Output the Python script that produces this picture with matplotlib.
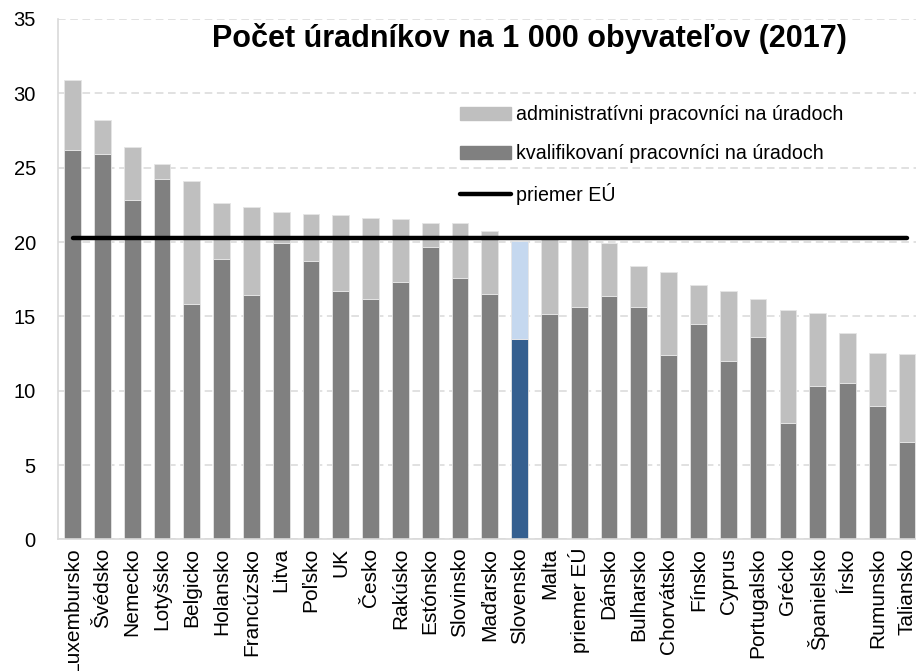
# Import libraries
import numpy as np
import matplotlib.pyplot as plt
from matplotlib.patches import Patch
from matplotlib.lines import Line2D

plt.rcParams.update({
    "font.family": ["Liberation Sans", "DejaVu Sans"],
    "figure.facecolor": "white",
})

# Data
countries = ["Luxembursko", "Švédsko", "Nemecko", "Lotyšsko", "Belgicko", "Holansko",
             "Francúzsko", "Litva", "Poľsko", "UK", "Česko", "Rakúsko", "Estónsko",
             "Slovinsko", "Maďarsko", "Slovensko", "Malta", "priemer EÚ", "Dánsko",
             "Bulharsko", "Chorvátsko", "Fínsko", "Cyprus", "Portugalsko", "Grécko",
             "Španielsko", "Írsko", "Rumunsko", "Taliansko"]
qualified = [26.2, 25.95, 22.8, 24.25, 15.85, 18.85, 16.45, 19.95, 18.7, 16.7, 16.15,
             17.3, 19.7, 17.6, 16.5, 13.5, 15.15, 15.6, 16.35, 15.65, 12.4, 14.5, 12.0,
             13.6, 7.85, 10.35, 10.5, 8.95, 6.55]
total = [30.9, 28.2, 26.4, 25.25, 24.1, 22.65, 22.35, 22.0, 21.9, 21.85, 21.65,
         21.55, 21.25, 21.25, 20.75, 20.1, 20.2, 20.3, 19.95, 18.4, 18.0, 17.1, 16.7,
         16.15, 15.45, 15.2, 13.9, 12.55, 12.45]
eu_avg = 20.3
highlight = "Slovensko"

admin = [t - q for t, q in zip(total, qualified)]
x = np.arange(len(countries))

dark_cols = ["#355f8f" if c == highlight else "#808080" for c in countries]
light_cols = ["#c5d8ef" if c == highlight else "#bfbfbf" for c in countries]

# Plot figure
fig = plt.figure(figsize=(9.16, 6.71), dpi=100)
ax = fig.add_axes([0.0633, 0.196, 0.9367, 0.7757])

ax.bar(x, qualified, width=0.56, color=dark_cols, edgecolor="#e6e6e6", lw=0.6, zorder=2)
ax.bar(x, admin, bottom=qualified, width=0.56, color=light_cols, edgecolor="#e6e6e6",
       lw=0.6, zorder=2)
ax.plot([x[0], x[-1]], [eu_avg, eu_avg], color="black", lw=3.2,
        solid_capstyle="round", zorder=3)

ax.set_xlim(-0.49, 28.3)
ax.set_ylim(0, 35)
ax.set_yticks(np.arange(0, 36, 5))
ax.yaxis.grid(True, color="#d9d9d9", linestyle=(0, (5, 3)), lw=1.1)
ax.set_axisbelow(True)
for side in ["top", "right"]:
    ax.spines[side].set_visible(False)
for side in ["left", "bottom"]:
    ax.spines[side].set_color("#d9d9d9")
    ax.spines[side].set_linewidth(1.2)

ax.set_xticks(x)
ax.set_xticklabels(countries, rotation=90, fontsize=15)
ax.tick_params(axis="x", length=0, pad=6)
ax.tick_params(axis="y", length=0, pad=16, labelsize=14.5)

ax.text(0.55, 0.962, "Počet úradníkov na 1 000 obyvateľov (2017)", transform=ax.transAxes,
        ha="center", va="center", fontsize=22, fontweight="bold")

# Legend
handles = [Patch(color="#bfbfbf"), Patch(color="#808080"),
           Line2D([0], [0], color="black", lw=3.2, solid_capstyle="round")]
labels = ["administratívni pracovníci na úradoch", "kvalifikovaní pracovníci na úradoch",
          "priemer EÚ"]
ax.legend(handles, labels, loc="upper left", bbox_to_anchor=(0.459, 0.849), frameon=False,
          fontsize=14.1, handlelength=2.6, handleheight=0.65, handletextpad=0.3,
          labelspacing=1.0, borderaxespad=0)

fig.savefig("out.png", dpi=100)
